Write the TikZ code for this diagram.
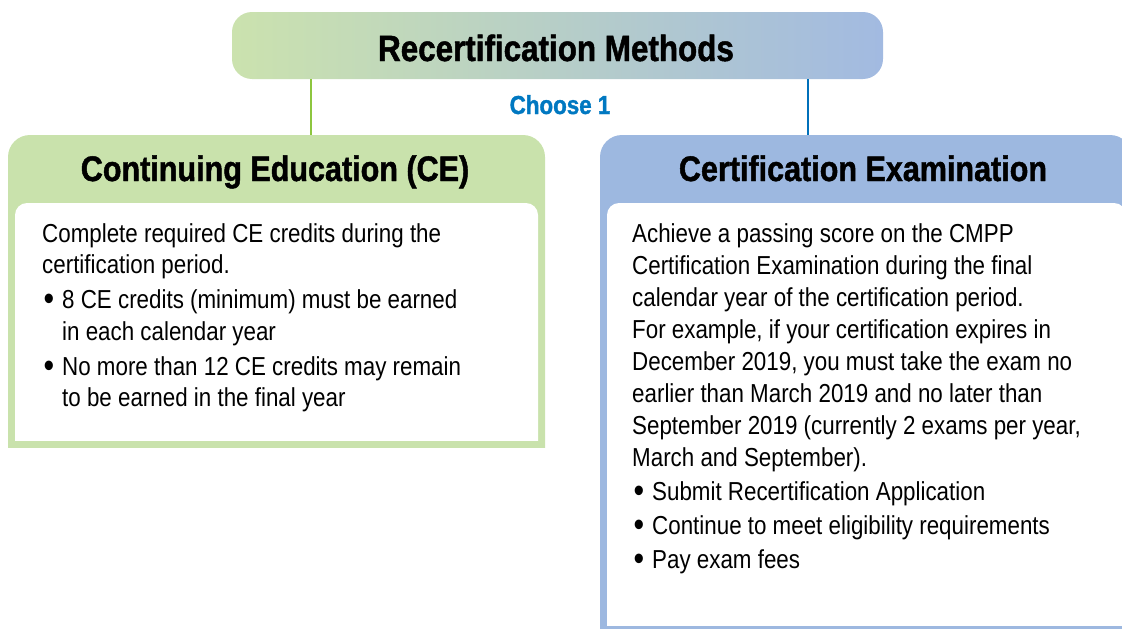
\documentclass[tikz,border=0pt]{standalone}
\usepackage{fontspec}
\setmainfont{Liberation Sans}[FakeStretch=0.86,BoldFeatures={FakeBold=1.3}]
\definecolor{cegreen}{RGB}{201,226,172}
\definecolor{exblue}{RGB}{157,184,224}
\definecolor{linegreen}{RGB}{141,198,63}
\definecolor{lineblue}{RGB}{0,112,186}
\definecolor{choosecol}{RGB}{0,120,193}
\definecolor{gradL}{RGB}{203,226,174}
\definecolor{gradR}{RGB}{162,186,225}
\newcommand{\bul}{\makebox[20pt][l]{\hspace{1.5pt}\raisebox{-2.4pt}{\scalebox{1.35}{\textbullet}}}}
\begin{document}
\begin{tikzpicture}[x=1pt,y=-1pt,
  headtext/.style={anchor=base,inner sep=0pt,font=\fontsize{35.5}{40}\selectfont\bfseries},
  body/.style={anchor=base west,inner sep=0pt,font=\fontsize{26}{30}\selectfont},
  conn/.style={line width=2.5pt}]
\useasboundingbox (0,0) rectangle (1122,629);
\clip (0,0) rectangle (1122,629);
% top box
\node[left color=gradL,right color=gradR,rounded corners=20pt,minimum width=651pt,minimum height=67pt,inner sep=0pt] (top) at (557.5,45.5) {};
\node[headtext,font=\fontsize{36.5}{40}\selectfont\bfseries] (toptitle) at (556,61) {Recertification Methods};
\node[anchor=base,inner sep=0pt,font=\fontsize{26}{30}\selectfont\bfseries,text=choosecol] (choose) at (560,114) {Choose 1};
% left box
\begin{scope}
\clip (0,0) rectangle (1122,447);
\fill[cegreen,rounded corners=22pt] (8,135) rectangle (545,480);
\end{scope}
\begin{scope}
\clip (0,0) rectangle (1122,440);
\fill[white,rounded corners=12pt] (15,203) rectangle (538,470);
\end{scope}
% right box
\fill[exblue,rounded corners=22pt] (600,135) rectangle (1132,660);
\begin{scope}
\clip (0,0) rectangle (1122,625);
\fill[white,rounded corners=12pt] (607,203) rectangle (1126,660);
\end{scope}
\coordinate (cetop) at (311,135);
\coordinate (extop) at (808,135);
\draw[conn,linegreen] (top.south -| cetop) -- (cetop);
\draw[conn,lineblue] (top.south -| extop) -- (extop);
% headers
\node[headtext] (cehead) at (275,181) {Continuing Education (CE)};
\node[headtext] (exhead) at (863,181) {Certification Examination};
% left body
\node[body] (ce1) at (42,242) {Complete required CE credits during the};
\node[body] (ce2) at (42,273) {certification period.};
\node[body] (ce3) at (42,308) {\bul 8 CE credits (minimum) must be earned};
\node[body] (ce4) at (62,340) {in each calendar year};
\node[body] (ce5) at (42,375) {\bul No more than 12 CE credits may remain};
\node[body] (ce6) at (62,406) {to be earned in the final year};
% right body
\node[body] (ex1) at (632,242) {Achieve a passing score on the CMPP};
\node[body] (ex2) at (632,274) {Certification Examination during the final};
\node[body] (ex3) at (632,306) {calendar year of the certification period.};
\node[body] (ex4) at (632,338) {For example, if your certification expires in};
\node[body] (ex5) at (632,370) {December 2019, you must take the exam no};
\node[body] (ex6) at (632,402) {earlier than March 2019 and no later than};
\node[body] (ex7) at (632,434) {September 2019 (currently 2 exams per year,};
\node[body] (ex8) at (632,466) {March and September).};
\node[body] (ex9) at (632,500) {\bul Submit Recertification Application};
\node[body] (ex10) at (632,534) {\bul Continue to meet eligibility requirements};
\node[body] (ex11) at (632,568) {\bul Pay exam fees};
\end{tikzpicture}
\end{document}
